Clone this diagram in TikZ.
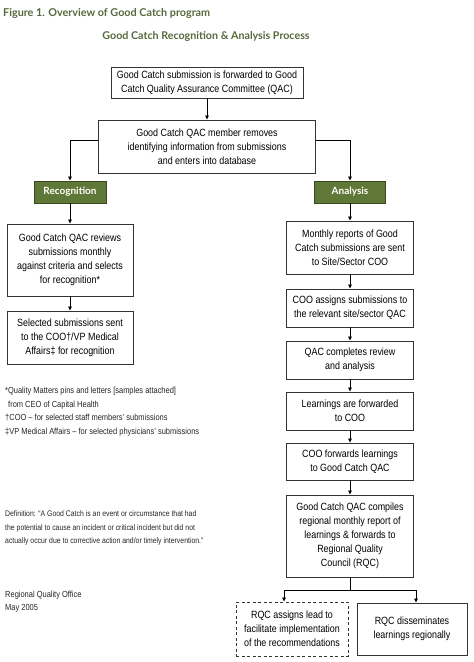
\documentclass[tikz,border=0pt]{standalone}
\usepackage{fontspec}
\setmainfont{Liberation Sans}[FakeStretch=0.85]
\newfontfamily\titlefont{Lato}
\usetikzlibrary{arrows.meta}
\definecolor{hdrgreen}{HTML}{5F7837}
\definecolor{titlegreen}{HTML}{58693D}
\begin{document}
\begin{tikzpicture}[x=1pt,y=-1pt,
  box/.style={draw=black!80, line width=0.9pt, fill=white, align=center,
    font=\fontsize{10.5}{14}\selectfont, inner sep=1pt},
  hdr/.style={draw=hdrgreen!60!black, fill=hdrgreen, text=white, line width=0.9pt,
    font=\titlefont\bfseries\fontsize{10}{12}\selectfont, inner sep=0pt},
  arr/.style={-{Triangle[length=4pt,width=3.6pt]}, line width=0.8pt},
  link/.style={line width=0.8pt},
  note/.style={anchor=north west, align=left, inner sep=0pt, text=black!85,
    font=\fontsize{8.8}{13.5}\selectfont}]
\useasboundingbox (0,0) rectangle (474,662);
\fill[white] (0,0) rectangle (474,662);

% titles
\node[anchor=west, inner sep=0pt, text=titlegreen,
  font=\titlefont\bfseries\fontsize{10.8}{12}\selectfont] (title) at (3,13)
  {Figure 1. Overview of Good Catch program};
\node[inner sep=0pt, text=titlegreen,
  font=\titlefont\bfseries\fontsize{10.7}{12}\selectfont] (subtitle) at (206,36)
  {Good Catch Recognition \& Analysis Process};

% top boxes
\node[box, minimum width=192pt, minimum height=31pt] (b1) at (207,82.5)
  {Good Catch submission is forwarded to Good\\Catch Quality Assurance Committee (QAC)};
\node[box, minimum width=217pt, minimum height=53pt] (b2) at (207,146.5)
  {Good Catch QAC member removes\\identifying information from submissions\\and enters into database};

% headers
\node[hdr, minimum width=72pt, minimum height=22pt] (rec) at (70,192) {Recognition};
\node[hdr, minimum width=71pt, minimum height=22pt] (ana) at (350,192) {Analysis};

% left column
\node[box, minimum width=126pt, minimum height=72pt] (l1) at (70,260)
  {Good Catch QAC reviews\\submissions monthly\\against criteria and selects\\for recognition*};
\node[box, minimum width=126pt, minimum height=53pt] (l2) at (70,337.5)
  {Selected submissions sent\\to the COO†/VP Medical\\Affairs‡ for recognition};

% right column
\node[box, minimum width=127pt, minimum height=53pt] (r1) at (350,247.5)
  {Monthly reports of Good\\Catch submissions are sent\\to Site/Sector COO};
\node[box, minimum width=127pt, minimum height=38pt] (r2) at (350,308)
  {COO assigns submissions to\\the relevant site/sector QAC};
\node[box, minimum width=127pt, minimum height=38pt] (r3) at (350,360)
  {QAC completes review\\and analysis};
\node[box, minimum width=127pt, minimum height=38pt] (r4) at (350,411)
  {Learnings are forwarded\\to COO};
\node[box, minimum width=127pt, minimum height=37pt] (r5) at (350,461.5)
  {COO forwards learnings\\to Good Catch QAC};
\node[box, minimum width=127pt, minimum height=82pt] (r6) at (350,536)
  {Good Catch QAC compiles\\regional monthly report of\\learnings \& forwards to\\Regional Quality\\Council (RQC)};

% bottom boxes
\node[box, dashed, dash pattern=on 3pt off 2.5pt, minimum width=112pt, minimum height=54pt] (d1) at (292,629)
  {RQC assigns lead to\\facilitate implementation\\of the recommendations};
\node[box, minimum width=110pt, minimum height=52pt] (s1) at (412,629)
  {RQC disseminates\\learnings regionally};

\coordinate (sp) at (350,590);

% connectors
\draw[arr] (b1.south) -- (b1.south |- b2.north);
\draw[arr] ([yshift=6.5pt]b2.west) -| (rec.north);
\draw[arr] ([yshift=6.5pt]b2.east) -| (ana.north);
\draw[arr] (rec.south) -- (l1.north);
\draw[arr] (l1.south) -- (l2.north);
\draw[arr] (ana.south) -- (r1.north);
\draw[arr] (r1.south) -- (r2.north);
\draw[arr] (r2.south) -- (r3.north);
\draw[arr] (r3.south) -- (r4.north);
\draw[arr] (r4.south) -- (r5.north);
\draw[arr] (r5.south) -- (r6.north);
\draw[link] (r6.south) -- (sp);
\draw[arr] (sp) -| ([xshift=-8pt]d1.north);
\draw[arr] (sp) -| ([xshift=4pt]s1.north);

% notes
\node[note] (fn) at (5,387)
  {*Quality Matters pins and letters [samples attached]\\
   \hspace*{3pt}from CEO of Capital Health\\
   †COO -- for selected staff members' submissions\\
   ‡VP Medical Affairs -- for selected physicians' submissions};
\node[note, font=\fontsize{8.1}{13.5}\selectfont] (def) at (5,510.5)
  {Definition: ``A Good Catch is an event or circumstance that had\\
   the potential to cause an incident or critical incident but did not\\
   actually occur due to corrective action and/or timely intervention.''};
\node[note] (office) at (5,590.5)
  {Regional Quality Office\\May 2005};
\end{tikzpicture}
\end{document}
